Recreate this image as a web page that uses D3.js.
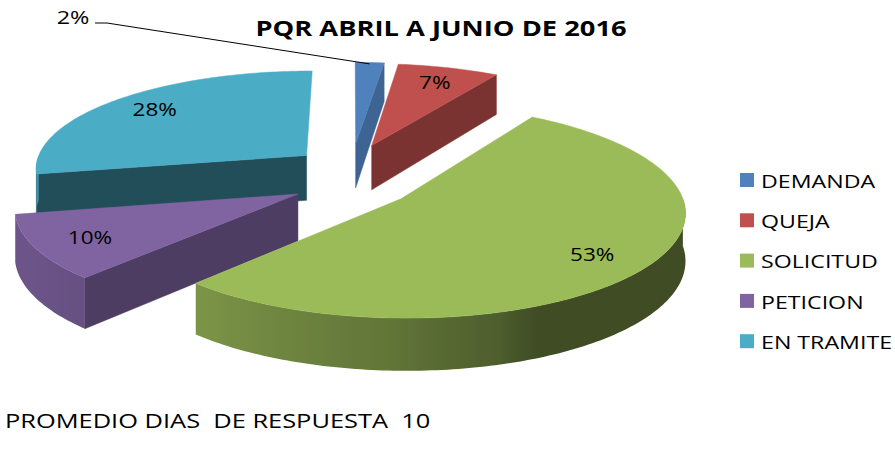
<!DOCTYPE html>
<html><head><meta charset="utf-8">
<script src="https://cdn.jsdelivr.net/npm/d3@7"></script>
<style>body{margin:0;background:#fff;} svg{display:block;}</style>
</head><body>
<svg id="c" width="895" height="454"></svg>
<script>
const categories = ["DEMANDA", "QUEJA", "SOLICITUD", "PETICION", "EN TRAMITE"];
const values = [2, 7, 53, 10, 28];
const pctLabels = ["2%", "7%", "53%", "10%", "28%"];
const colors = ["#4F81BD", "#C0504D", "#9BBB59", "#8064A2", "#4BACC6"];
const title = "PQR ABRIL A JUNIO DE 2016";
const footer = "PROMEDIO DIAS  DE RESPUESTA  10";

const svg = d3.select("#c");
const defs = svg.append("defs");
const FONT = "'Open Sans', 'DejaVu Sans', sans-serif";

// geometry
const cx = 352, cy = 177, rx = 275, ry = 102, depth = 46, persp = 0.12;
const explX = 0.22, explZ = 0.34;

const pie = d3.pie().sort(null).value(d => d);
const arcs = pie(values);

function proj(X, Z, h) {
  const f = 1 + persp * Z;
  return [cx + rx * X * f, cy + ry * Z * f + h * f];
}
function pt(a, r, off, h) {
  return proj(Math.sin(a) * r + off[0], -Math.cos(a) * r + off[1], h);
}
const line = d3.line();
const DEG = Math.PI / 180;

function arcPts(a0, a1, off, h) {
  const n = Math.max(2, Math.ceil((a1 - a0) / DEG));
  const pts = [];
  for (let i = 0; i <= n; i++) pts.push(pt(a0 + (a1 - a0) * i / n, 1, off, h));
  return pts;
}

const slices = arcs.map((d, i) => {
  const mid = (d.startAngle + d.endAngle) / 2;
  const off = [Math.sin(mid) * explX, -Math.cos(mid) * explZ];
  return {d, i, mid, off};
});
const order = slices.slice().sort((a, b) => (-Math.cos(a.mid)) - (-Math.cos(b.mid)));

const wallShade = d3.scaleLinear()
  .domain([90, 155, 163, 183, 218, 223, 240, 270])
  .range([2.5, 2.5, 1.94, 1.3, 0.7, 0.64, 0.5, 0.45]).clamp(true);
const cutShade = d3.scaleLinear().domain([90, 97, 122, 133, 169, 180]).range([0.6, 0.7, 1.25, 1.4, 2.2, 2.3]).clamp(true);

const g = svg.append("g");
function shade(c, k) { return d3.color(c).darker(k).formatHex(); }

order.forEach(s => {
  const {d, i, off} = s;
  const a0 = d.startAngle, a1 = d.endAngle, col = colors[i];
  const walls = [];
  if (Math.sin(a0) < -1e-6) walls.push({a: a0, n: a0 - Math.PI / 2});
  if (Math.sin(a1) > 1e-6) walls.push({a: a1, n: a1 + Math.PI / 2});
  walls.forEach(w => {
    const nDeg = ((w.n / DEG) % 360 + 360) % 360;
    const c = shade(col, cutShade(nDeg));
    const poly = [pt(0, 0, off, 0), pt(w.a, 1, off, 0), pt(w.a, 1, off, depth), pt(0, 0, off, depth)];
    g.append("path").attr("d", line(poly) + "Z").attr("fill", c).attr("stroke", c).attr("stroke-width", 0.5);
  });
  const s0 = Math.max(a0, Math.PI / 2), s1 = Math.min(a1, 1.5 * Math.PI);
  if (s1 > s0) {
    const xl = pt(s1, 1, off, 0)[0], xr = pt(s0, 1, off, 0)[0];
    const id = "wall" + i;
    const grad = defs.append("linearGradient").attr("id", id).attr("gradientUnits", "userSpaceOnUse")
      .attr("x1", xl).attr("y1", 0).attr("x2", xr).attr("y2", 0);
    const n = Math.ceil((s1 - s0) / DEG);
    const stops = [];
    for (let j = 0; j <= n; j++) {
      const a = s0 + (s1 - s0) * j / n;
      const x = pt(a, 1, off, 0)[0];
      stops.push({o: Math.max(0, Math.min(1, (x - xl) / (xr - xl))), c: shade(col, wallShade(a / DEG))});
    }
    stops.sort((p, q) => p.o - q.o);
    grad.selectAll("stop").data(stops).join("stop").attr("offset", p => p.o).attr("stop-color", p => p.c);
    const top = arcPts(s0, s1, off, 0);
    const bot = arcPts(s0, s1, off, depth).reverse();
    g.append("path").attr("d", line(top.concat(bot)) + "Z").attr("fill", `url(#${id})`);
  }
  const topPts = [pt(0, 0, off, 0)].concat(arcPts(a0, a1, off, 0));
  g.append("path").attr("d", line(topPts) + "Z").attr("fill", col).attr("stroke", col).attr("stroke-width", 0.5);
});

function stext(x, y, txt, size, sx, opts = {}) {
  return svg.append("g").attr("transform", `translate(${x},${y}) scale(${sx},1)`)
    .append("text").attr("x", 0).attr("y", 0)
    .attr("text-anchor", opts.anchor || "start")
    .attr("dominant-baseline", opts.baseline || "auto")
    .attr("font-family", FONT).attr("font-size", size)
    .attr("font-weight", opts.weight || "normal").attr("fill", "#000")
    .attr("xml:space", "preserve").style("white-space", "pre")
    .text(txt);
}

// percentage labels
const labR = 0.8;
slices.forEach(s => {
  if (s.i === 0) return;
  const p = pt(s.mid, labR, s.off, 0);
  stext(p[0], p[1], pctLabels[s.i], 18, 1.25, {anchor: "middle", baseline: "central"});
});
{
  const s = slices[0];
  const end = pt(s.mid, 0.98, s.off, 0);
  svg.append("path").attr("d", line([[95, 23], [107, 23], end])).attr("fill", "none")
    .attr("stroke", "#000").attr("stroke-width", 1);
  stext(73, 17, pctLabels[0], 18, 1.3, {anchor: "middle", baseline: "central"});
}

stext(441, 36, title, 21, 1.3, {anchor: "middle", weight: "bold"});

categories.forEach((c, i) => {
  const y = 180 + i * 40.3;
  svg.append("rect").attr("x", 740).attr("y", y - 7).attr("width", 14).attr("height", 14).attr("fill", colors[i]);
  stext(761, y, c, 19, 1.22, {baseline: "central"});
});

stext(5, 428, footer, 20, 1.27);
</script>
</body></html>
